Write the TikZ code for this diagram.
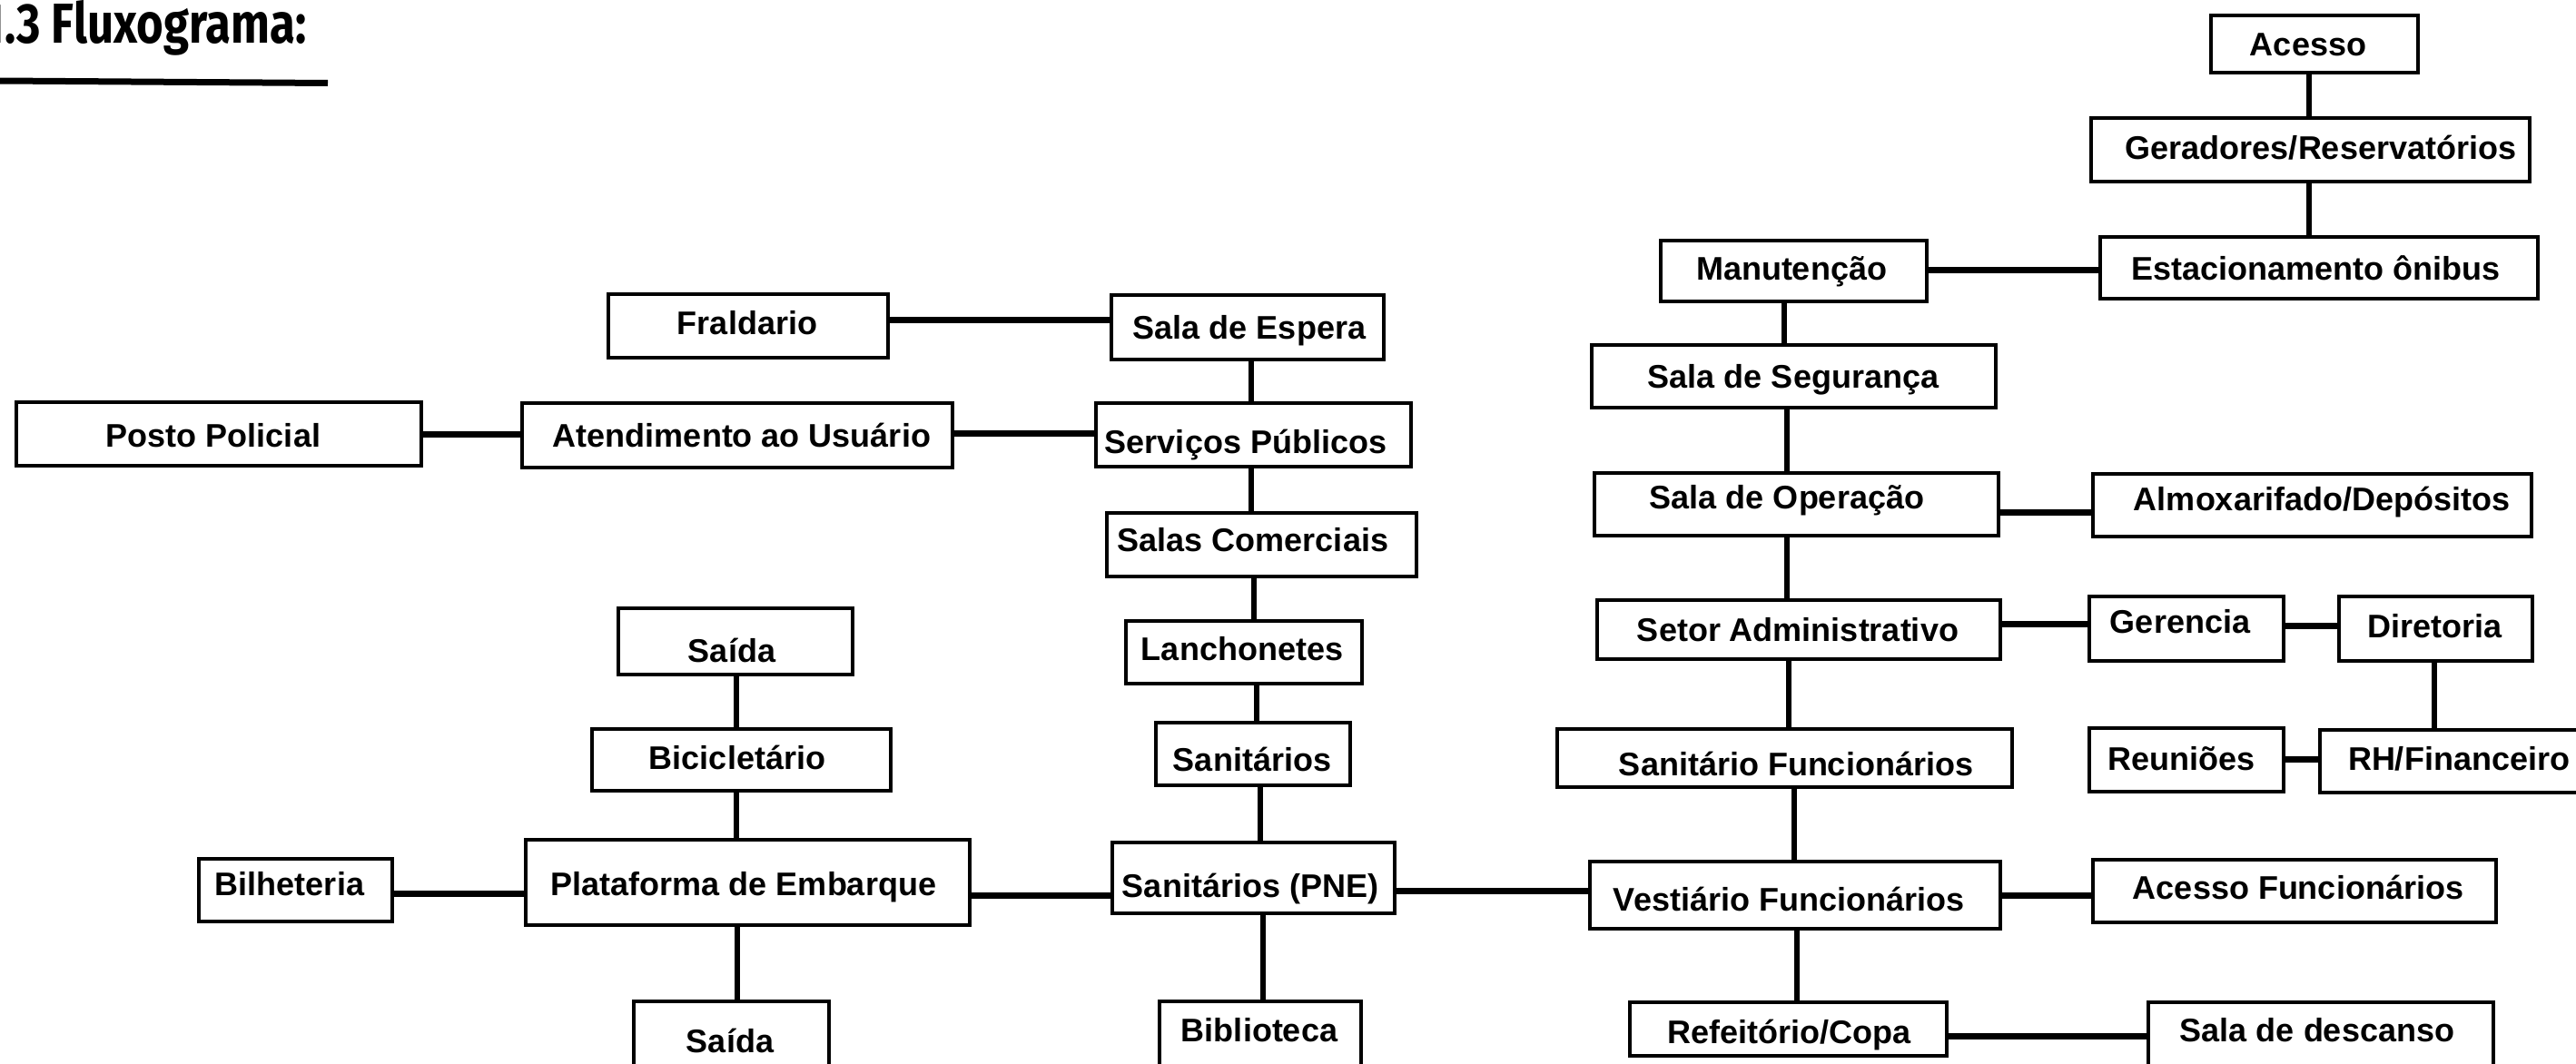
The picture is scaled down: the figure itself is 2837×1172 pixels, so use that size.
\documentclass[tikz,border=0pt]{standalone}
\usepackage{fontspec}
\setmainfont{Liberation Sans}
\newfontfamily\titlefont{Fira Sans}
\begin{document}
\begin{tikzpicture}[x=1pt,y=-1pt,
  box/.style={draw=black, line width=4pt, fill=white, rectangle, inner sep=0pt},
  lbl/.style={anchor=base, inner sep=0pt, font=\bfseries\fontsize{36}{40}\selectfont},
  hline/.style={line width=7pt},
  vline/.style={line width=5.5pt}]
\useasboundingbox (0,0) rectangle (2837,1172);
\clip (0,0) rectangle (2837,1172);
\fill[white] (0,0) rectangle (2837,1172);
% title
\node[anchor=base east, inner sep=0pt] (title) at (338,48) {\scalebox{0.82}[1]{\titlefont\bfseries\fontsize{62}{62}\selectfont 1.3 Fluxograma:}};
\coordinate (ulA) at (0,89);
\coordinate (ulB) at (361,91.5);
\draw[line width=7pt] (ulA) -- (ulB);
% boxes: center (x,y), size
\newcommand{\bx}[6]{\node[box, minimum width=#4-4, minimum height=#5-4] (#1) at ({(#2+#4/2)},{(#3+#5/2)}) {};}
% right column
\bx{acesso}{2433}{15}{232}{67}{}
\bx{gerad}{2301}{128}{487}{74}{}
\bx{estac}{2311}{259}{486}{72}{}
\bx{manut}{1827}{263}{297}{71}{}
\bx{seg}{1751}{378}{449}{73}{}
\bx{oper}{1754}{519}{449}{73}{}
\bx{almox}{2303}{520}{487}{73}{}
\bx{setor}{1757}{659}{448}{69}{}
\bx{geren}{2299}{655}{218}{75}{}
\bx{diret}{2574}{655}{217}{75}{}
\bx{reun}{2299}{800}{218}{74}{}
\bx{rh}{2553}{802}{300}{73}{}
\bx{sanfunc}{1713}{801}{505}{68}{}
\bx{vest}{1749}{947}{456}{78}{}
\bx{acfunc}{2303}{945}{448}{73}{}
\bx{refeit}{1793}{1102}{353}{63}{}
\bx{descanso}{2364}{1102}{384}{90}{}
% left / centre
\bx{fral}{668}{322}{312}{74}{}
\bx{salaesp}{1222}{323}{304}{75}{}
\bx{posto}{16}{441}{450}{74}{}
\bx{atend}{573}{442}{478}{75}{}
\bx{serv}{1205}{442}{351}{74}{}
\bx{salascom}{1217}{563}{345}{74}{}
\bx{lanch}{1238}{682}{264}{73}{}
\bx{saidaA}{679}{668}{262}{77}{}
\bx{bici}{650}{801}{333}{72}{}
\bx{plat}{577}{923}{493}{98}{}
\bx{bilh}{217}{944}{217}{73}{}
\bx{sanit}{1271}{794}{218}{73}{}
\bx{sanpne}{1223}{926}{315}{82}{}
\bx{saidaB}{696}{1101}{219}{90}{}
\bx{biblio}{1275}{1101}{226}{90}{}
% labels
\node[lbl] at (2542,62) {Acesso};
\node[lbl] at (2556,175) {Geradores/Reservatórios};
\node[lbl] at (2550,308) {Estacionamento ônibus};
\node[lbl] at (1973,308) {Manutenção};
\node[lbl] at (1975,427) {Sala de Segurança};
\node[lbl] at (1968,560) {Sala de Operação};
\node[lbl] at (2557,562) {Almoxarifado/Depósitos};
\node[lbl] at (1980,706) {Setor Administrativo};
\node[lbl] at (2401,697) {Gerencia};
\node[lbl] at (2681,702) {Diretoria};
\node[lbl] at (2402,848) {Reuniões};
\node[lbl] at (2708,848) {RH/Financeiro};
\node[lbl] at (1978,854) {Sanitário Funcionários};
\node[lbl] at (1970,1003) {Vestiário Funcionários};
\node[lbl] at (2531,990) {Acesso Funcionários};
\node[lbl] at (1970,1149) {Refeitório/Copa};
\node[lbl] at (2552,1147) {Sala de descanso};
\node[lbl] at (823,368) {Fraldario};
\node[lbl] at (1376,373) {Sala de Espera};
\node[lbl] at (235,492) {Posto Policial};
\node[lbl] at (817,492) {Atendimento ao Usuário};
\node[lbl] at (1372,499) {Serviços Públicos};
\node[lbl] at (1380,607) {Salas Comerciais};
\node[lbl] at (1368,727) {Lanchonetes};
\node[lbl] at (806,729) {Saída};
\node[lbl] at (812,847) {Bicicletário};
\node[lbl] at (819,986) {Plataforma de Embarque};
\node[lbl] at (319,986) {Bilheteria};
\node[lbl] at (1379,849) {Sanitários};
\node[lbl] at (1377,988) {Sanitários (PNE)};
\node[lbl] at (804,1159) {Saída};
\node[lbl] at (1387,1147) {Biblioteca};
% vertical connectors
\draw[vline] (acesso.south -| 2543,0) -- (gerad.north -| 2543,0);
\draw[vline] (gerad.south -| 2543,0) -- (estac.north -| 2543,0);
\draw[vline] (manut.south -| 1965,0) -- (seg.north -| 1965,0);
\draw[vline] (seg.south -| 1968,0) -- (oper.north -| 1968,0);
\draw[vline] (oper.south -| 1968,0) -- (setor.north -| 1968,0);
\draw[vline] (setor.south -| 1970,0) -- (sanfunc.north -| 1970,0);
\draw[vline] (sanfunc.south -| 1976,0) -- (vest.north -| 1976,0);
\draw[vline] (vest.south -| 1979,0) -- (refeit.north -| 1979,0);
\draw[vline] (diret.south -| 2681,0) -- (rh.north -| 2681,0);
\draw[vline] (salaesp.south -| 1378,0) -- (serv.north -| 1378,0);
\draw[vline] (serv.south -| 1378,0) -- (salascom.north -| 1378,0);
\draw[vline] (salascom.south -| 1381,0) -- (lanch.north -| 1381,0);
\draw[vline] (lanch.south -| 1384,0) -- (sanit.north -| 1384,0);
\draw[vline] (sanit.south -| 1388,0) -- (sanpne.north -| 1388,0);
\draw[vline] (sanpne.south -| 1391,0) -- (biblio.north -| 1391,0);
\draw[vline] (saidaA.south -| 811,0) -- (bici.north -| 811,0);
\draw[vline] (bici.south -| 811,0) -- (plat.north -| 811,0);
\draw[vline] (plat.south -| 812,0) -- (saidaB.north -| 812,0);
% horizontal connectors
\draw[hline] (manut.east |- 0,297) -- (estac.west |- 0,297);
\draw[hline] (oper.east |- 0,564) -- (almox.west |- 0,564);
\draw[hline] (setor.east |- 0,687) -- (geren.west |- 0,687);
\draw[hline] (geren.east |- 0,689) -- (diret.west |- 0,689);
\draw[hline] (reun.east |- 0,836) -- (rh.west |- 0,836);
\draw[hline] (vest.east |- 0,986) -- (acfunc.west |- 0,986);
\draw[hline] (refeit.east |- 0,1141) -- (descanso.west |- 0,1141);
\draw[hline] (sanpne.east |- 0,981) -- (vest.west |- 0,981);
\draw[hline] (fral.east |- 0,352) -- (salaesp.west |- 0,352);
\draw[hline] (posto.east |- 0,478) -- (atend.west |- 0,478);
\draw[hline] (atend.east |- 0,477) -- (serv.west |- 0,477);
\draw[hline] (bilh.east |- 0,984) -- (plat.west |- 0,984);
\draw[hline] (plat.east |- 0,986) -- (sanpne.west |- 0,986);
\end{tikzpicture}
\end{document}
